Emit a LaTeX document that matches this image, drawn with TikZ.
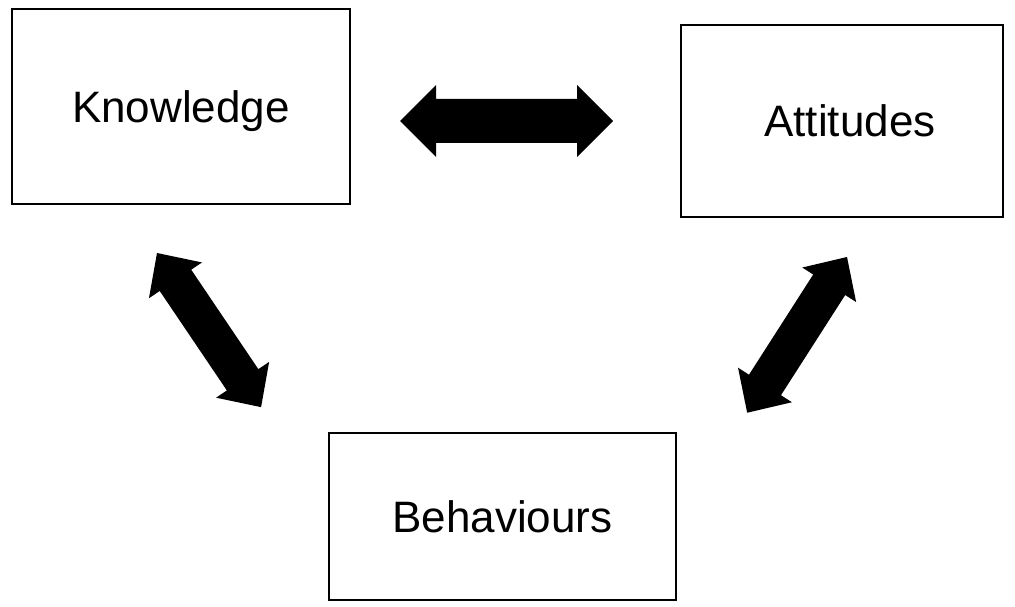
\documentclass[tikz,border=0pt]{standalone}
\usepackage{fontspec}
\setmainfont{Liberation Sans}
\newcommand\dblarr[4]{% length, head length, shaft half width, head half width
  \fill (0,0) -- (#2,#4) -- (#2,#3) -- ({#1-#2},#3) -- ({#1-#2},#4) -- (#1,0)
    -- ({#1-#2},-#4) -- ({#1-#2},-#3) -- (#2,-#3) -- (#2,-#4) -- cycle;}
\tikzset{
  box/.style={draw=black, line width=2.5pt, fill=white, inner sep=0pt,
    font=\fontsize{44}{52}\selectfont, text height=32pt, text depth=0pt},
}
\begin{document}
\begin{tikzpicture}[x=1pt,y=1pt]
\useasboundingbox (0,0) rectangle (1015,-607);
\node[box, minimum width=338pt, minimum height=195pt] (know) at (181,-106.5) {Knowledge};
\node[box, minimum width=322pt, minimum height=192pt] (att) at (842,-121) {\hspace{16pt}Attitudes};
\node[box, minimum width=347pt, minimum height=167pt] (beh) at (502.5,-516.5) {Behaviours};
% horizontal double arrow between Knowledge and Attitudes
\begin{scope}[shift={(400,-121)}]
  \dblarr{213}{36}{22}{36}
\end{scope}
% Knowledge <-> Behaviours
\begin{scope}[shift={(157,-253)}, rotate=-55.97]
  \dblarr{186}{33}{19}{32}
\end{scope}
% Attitudes <-> Behaviours
\begin{scope}[shift={(847,-257)}, rotate=-122.66]
  \dblarr{185}{33}{19}{32}
\end{scope}
\end{tikzpicture}
\end{document}
